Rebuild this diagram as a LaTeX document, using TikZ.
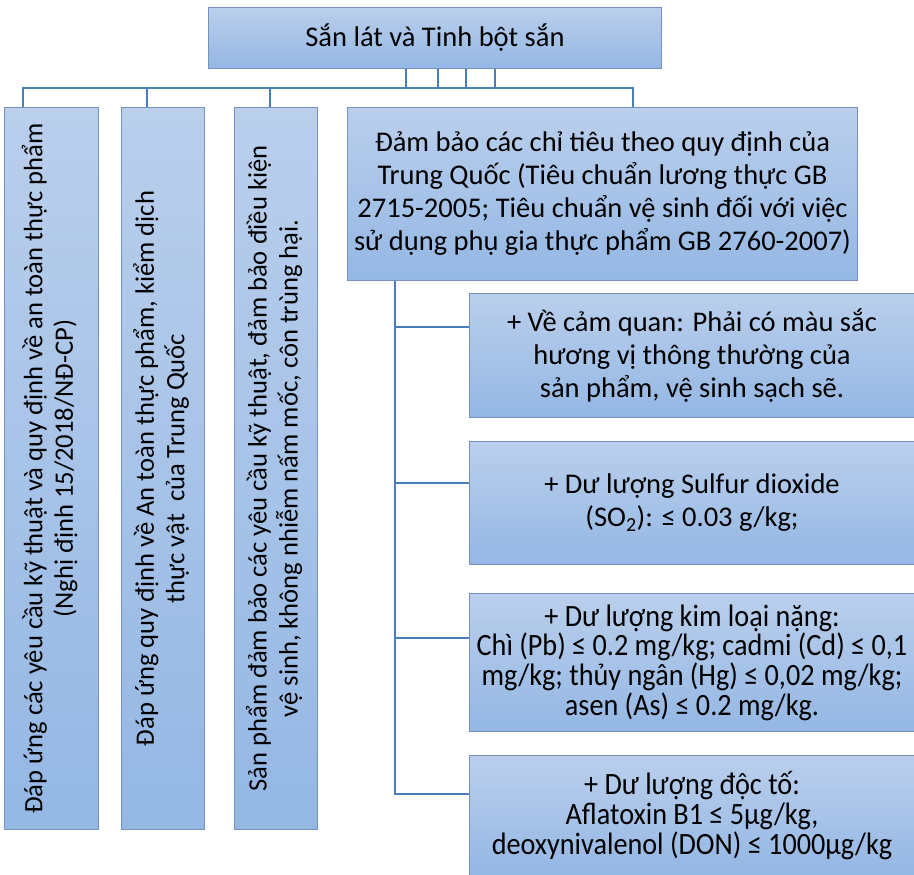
\documentclass[tikz,border=0pt]{standalone}
\usepackage{fontspec}
\setmainfont{Carlito}
\newfontfamily\narrowfont[FakeStretch=0.91]{Carlito}
\usetikzlibrary{positioning,calc}
\definecolor{boxtop}{RGB}{186,207,236}
\definecolor{boxbot}{RGB}{148,183,228}
\definecolor{boxedge}{RGB}{118,146,188}
\definecolor{linkblue}{RGB}{74,126,187}
\tikzset{
box/.style={
draw=boxedge,
line width=1pt,
top color=boxtop,
bottom color=boxbot,
align=center,
anchor=north west,
inner sep=0pt,
font=\fontsize{28.5}{33}\selectfont
},
vbox/.style={
box,
font=\fontsize{26.6}{30.5}\selectfont
},
narrowbox/.style={
box,
font=\narrowfont\fontsize{31}{29.7}\selectfont
},
link/.style={
draw=linkblue,
line width=2pt
}
}

\begin{document}
\begin{tikzpicture}[x=1pt,y=-1pt]

\useasboundingbox[fill=white] (0,0) rectangle (914,875);

\node[box, minimum width=453, minimum height=61] (root) at (208,7) {Sắn lát và Tinh bột sắn};

\node[vbox, minimum width=94, minimum height=722] (req1) at (4,107)
{\rotatebox{90}{\begin{tabular}{@{}c@{}}Đáp ứng các yêu cầu kỹ thuật và quy định về an toàn thực phẩm\\(Nghị định 15/2018/NĐ-CP)\end{tabular}}};
\node[vbox, minimum width=83, minimum height=722] (req2) at (121,107)
{\rotatebox{90}{\begin{tabular}{@{}c@{}}Đáp ứng quy định về An toàn thực phẩm, kiểm dịch\\thực vật\ \ của Trung Quốc\end{tabular}}};
\node[vbox, minimum width=83, minimum height=722] (req3) at (234,107)
{\rotatebox{90}{\begin{tabular}{@{}c@{}}Sản phẩm đảm bảo các yêu cầu kỹ thuật, đảm bảo điều kiện\\vệ sinh, không nhiễm nấm mốc, côn trùng hại.\end{tabular}}};
\node[box, minimum width=510, minimum height=173] (crit) at (347,107)
{Đảm bảo các chỉ tiêu theo quy định của\\Trung Quốc (Tiêu chuẩn lương thực GB\\2715-2005; Tiêu chuẩn vệ sinh đối với việc\\sử dụng phụ gia thực phẩm GB 2760-2007)};

\node[box, minimum width=445, minimum height=124] (sense) at (469,293)
{+ Về cảm quan: Phải có màu sắc\\hương vị thông thường của\\sản phẩm, vệ sinh sạch sẽ.};
\node[box, minimum width=445, minimum height=123] (sulfur) at (469,441)
{+ Dư lượng Sulfur dioxide\\(SO\textsubscript{2}): ≤ 0.03 g/kg;};
\node[narrowbox, minimum width=445, minimum height=138] (metal) at (469,593)
{+ Dư lượng kim loại nặng:\\Chì (Pb) ≤ 0.2 mg/kg; cadmi (Cd) ≤ 0,1\\mg/kg; thủy ngân (Hg) ≤ 0,02 mg/kg;\\asen (As) ≤ 0.2 mg/kg.};
\node[narrowbox, minimum width=445, minimum height=120] (toxin) at (469,755)
{+ Dư lượng độc tố:\\Aflatoxin B1 ≤ 5µg/kg,\\deoxynivalenol (DON) ≤ 1000µg/kg};

\draw[link] ([xshift=59.5pt]root.south) -- ++(0,19) -| ([xshift=19pt]req1.north west);
\draw[link] ([xshift=30.5pt]root.south) -- ++(0,19) -| ([xshift=26pt]req2.north west);
\draw[link] ([xshift=2.5pt]root.south) -- ++(0,19) -| ([xshift=36pt]req3.north west);
\draw[link] ([xshift=-29.5pt]root.south) -- ++(0,19) -| ([xshift=286pt]crit.north west);

\draw[link] ([xshift=48pt]crit.south west) |- ([yshift=-34pt]sense.north west);
\draw[link] ([xshift=48pt]crit.south west) |- ([yshift=-42pt]sulfur.north west);
\draw[link] ([xshift=48pt]crit.south west) |- ([yshift=-45pt]metal.north west);
\draw[link] ([xshift=48pt]crit.south west) |- ([yshift=-39pt]toxin.north west);

\end{tikzpicture}
\end{document}
